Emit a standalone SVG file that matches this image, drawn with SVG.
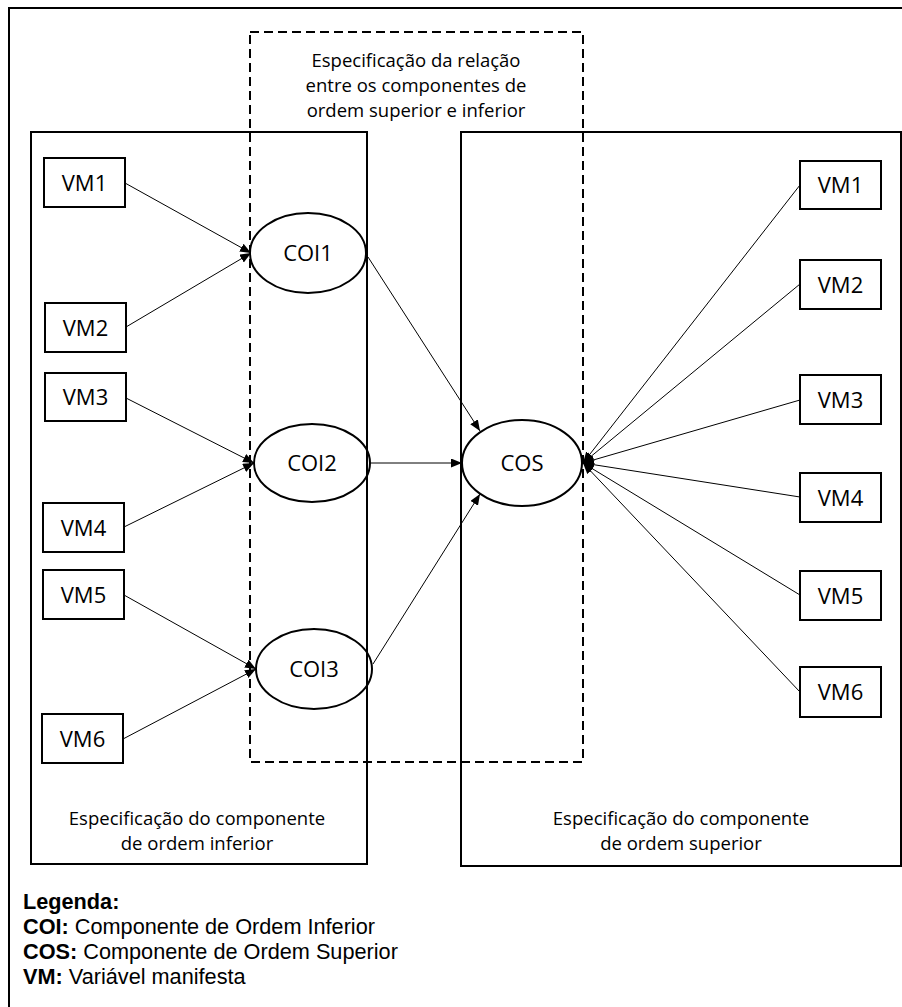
<svg xmlns="http://www.w3.org/2000/svg" width="902" height="1007" viewBox="0 0 902 1007">
<style>
.bg{fill:#ffffff}
.frame{fill:none;stroke:#000;stroke-width:2}
.box{fill:none;stroke:#000;stroke-width:2}
.dash{fill:none;stroke:#000;stroke-width:2;stroke-dasharray:9 5}
.vm{fill:#fff;stroke:#000;stroke-width:2}
.lv{fill:none;stroke:#000;stroke-width:2}
.con{fill:none;stroke:#000;stroke-width:1;marker-end:url(#arr)}
.lbl{font-family:"Open Sans","Noto Sans","DejaVu Sans",sans-serif;font-size:22px;fill:#000;text-anchor:middle}
.cap{font-family:"Open Sans","Noto Sans","DejaVu Sans",sans-serif;font-size:18.5px;fill:#000;text-anchor:middle}
.leg{font-family:"Liberation Sans",Arial,sans-serif;font-size:21.7px;fill:#000}
.b{font-weight:bold}
</style>
<defs>
<marker id="arr" markerUnits="userSpaceOnUse" markerWidth="12" markerHeight="10" refX="11" refY="4.5" orient="auto">
<path d="M0,0 L11,4.5 L0,9 z" fill="#000"/>
</marker>
</defs>
<rect class="bg" x="0" y="0" width="902" height="1007"/>
<path class="frame" d="M9,1010 V8 H906"/>

<g id="inferior-spec">
<rect class="box" x="31" y="132" width="336" height="732"/>
<text class="cap" x="197" y="825">Especificação do componente</text>
<text class="cap" x="197" y="850">de ordem inferior</text>
</g>
<g id="superior-spec">
<rect class="box" x="461" y="132" width="440" height="734"/>
<text class="cap" x="681" y="825">Especificação do componente</text>
<text class="cap" x="681" y="850">de ordem superior</text>
</g>
<g id="relation-spec">
<rect class="dash" x="250" y="32" width="333" height="730"/>
<text class="cap" x="416" y="67">Especificação da relação</text>
<text class="cap" x="416" y="92">entre os componentes de</text>
<text class="cap" x="416" y="117">ordem superior e inferior</text>
</g>

<g id="connectors">
<line class="con" x1="125" y1="183" x2="251" y2="253"/>
<line class="con" x1="126" y1="327" x2="251" y2="253"/>
<line class="con" x1="126" y1="398" x2="254" y2="463"/>
<line class="con" x1="124" y1="527" x2="254" y2="463"/>
<line class="con" x1="124" y1="595" x2="256" y2="669"/>
<line class="con" x1="123" y1="739" x2="256" y2="669"/>
<line class="con" x1="368" y1="257" x2="480" y2="431"/>
<line class="con" x1="371" y1="463" x2="462" y2="463"/>
<line class="con" x1="373" y1="664" x2="480" y2="494"/>
<line class="con" x1="800" y1="185" x2="583" y2="463"/>
<line class="con" x1="800" y1="284" x2="583" y2="463"/>
<line class="con" x1="800" y1="400" x2="583" y2="463"/>
<line class="con" x1="800" y1="497" x2="583" y2="463"/>
<line class="con" x1="800" y1="595" x2="583" y2="463"/>
<line class="con" x1="800" y1="692" x2="583" y2="463"/>
</g>

<g id="vm1-l"><rect class="vm" x="44" y="158" width="81" height="49"/><text class="lbl" x="84.5" y="190.5">VM1</text></g>
<g id="vm2-l"><rect class="vm" x="45" y="303" width="81" height="49"/><text class="lbl" x="85.5" y="335.5">VM2</text></g>
<g id="vm3-l"><rect class="vm" x="45" y="373" width="81" height="48"/><text class="lbl" x="85.5" y="405">VM3</text></g>
<g id="vm4-l"><rect class="vm" x="43" y="503" width="81" height="49"/><text class="lbl" x="83.5" y="535.5">VM4</text></g>
<g id="vm5-l"><rect class="vm" x="43" y="570" width="81" height="49"/><text class="lbl" x="83.5" y="602.5">VM5</text></g>
<g id="vm6-l"><rect class="vm" x="42" y="714" width="81" height="49"/><text class="lbl" x="82.5" y="746.5">VM6</text></g>

<g id="coi1"><ellipse class="lv" cx="308" cy="253" rx="58" ry="40"/><text class="lbl" x="308" y="261">COI1</text></g>
<g id="coi2"><ellipse class="lv" cx="312" cy="463" rx="58" ry="39"/><text class="lbl" x="312" y="471">COI2</text></g>
<g id="coi3"><ellipse class="lv" cx="314" cy="669" rx="58" ry="40"/><text class="lbl" x="314" y="677">COI3</text></g>
<g id="cos"><ellipse class="lv" cx="522" cy="463" rx="60" ry="43"/><text class="lbl" x="522" y="471">COS</text></g>

<g id="vm1-r"><rect class="vm" x="800" y="161" width="81" height="48"/><text class="lbl" x="840.5" y="193">VM1</text></g>
<g id="vm2-r"><rect class="vm" x="800" y="260" width="81" height="49"/><text class="lbl" x="840.5" y="292.5">VM2</text></g>
<g id="vm3-r"><rect class="vm" x="800" y="375" width="81" height="49"/><text class="lbl" x="840.5" y="407.5">VM3</text></g>
<g id="vm4-r"><rect class="vm" x="800" y="473" width="81" height="49"/><text class="lbl" x="840.5" y="505.5">VM4</text></g>
<g id="vm5-r"><rect class="vm" x="800" y="571" width="81" height="49"/><text class="lbl" x="840.5" y="603.5">VM5</text></g>
<g id="vm6-r"><rect class="vm" x="800" y="667" width="81" height="50"/><text class="lbl" x="840.5" y="700">VM6</text></g>

<g id="legend">
<text class="leg b" x="23" y="909">Legenda:</text>
<text class="leg" x="23" y="934"><tspan class="b">COI:</tspan> Componente de Ordem Inferior</text>
<text class="leg" x="23" y="959"><tspan class="b">COS:</tspan> Componente de Ordem Superior</text>
<text class="leg" x="23" y="984"><tspan class="b">VM:</tspan> Variável manifesta</text>
</g>
</svg>
